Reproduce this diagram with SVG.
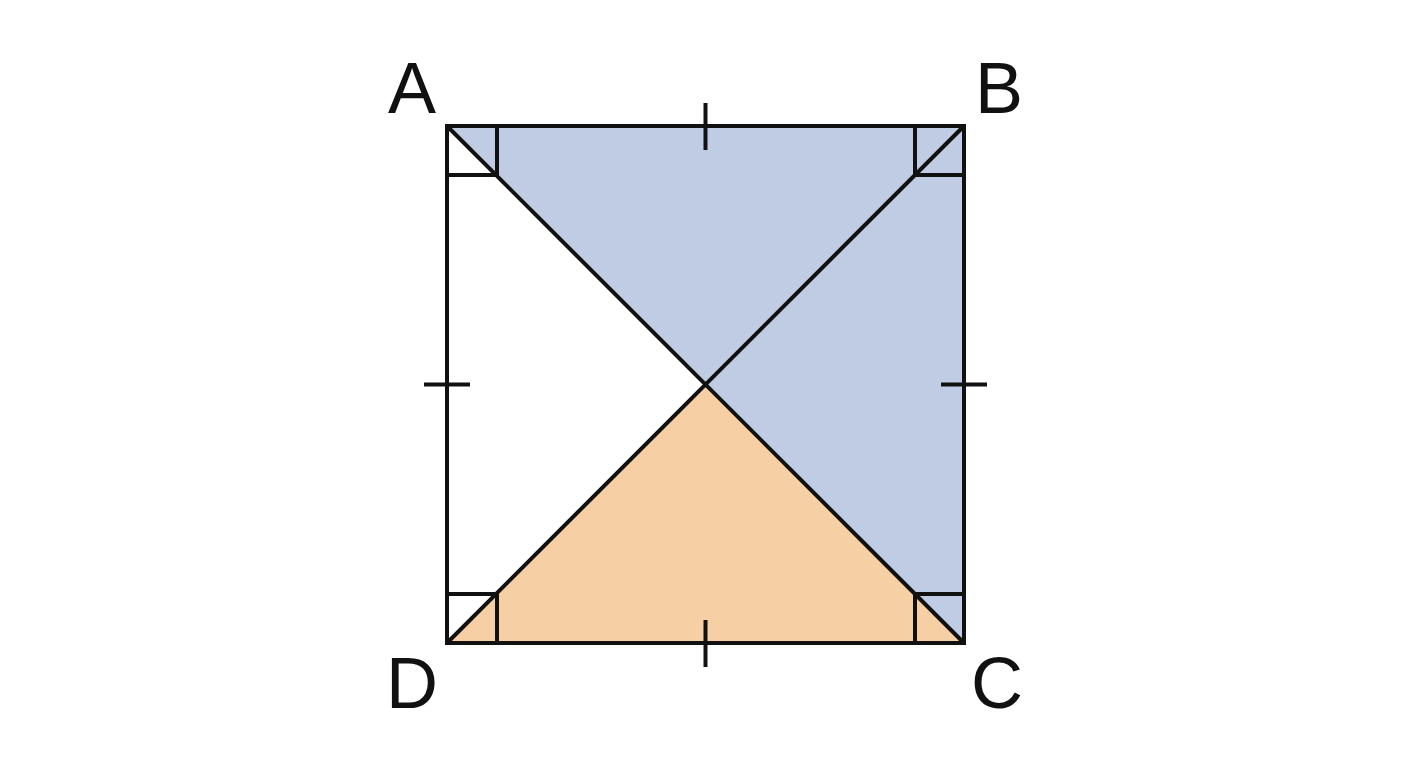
<svg xmlns="http://www.w3.org/2000/svg" width="1408" height="768" viewBox="0 0 1408 768">
<style>
.ln{stroke:#111;stroke-width:4;fill:none;stroke-linecap:butt}
.lbl{font-family:"Liberation Sans",Arial,sans-serif;font-size:72px;fill:#111;text-anchor:middle}
</style>
<rect width="1408" height="768" fill="#fff"/>
<g id="fills">
<polygon points="447,126 964,126 705.5,384.5" fill="#BFCCE4"/>
<polygon points="964,126 964,643 705.5,384.5" fill="#BFCCE4"/>
<polygon points="447,643 964,643 705.5,384.5" fill="#F7CFA4"/>
</g>
<g id="square">
<rect class="ln" x="447" y="126" width="517" height="517"/>
</g>
<g id="connectors">
<line class="ln" x1="447" y1="126" x2="964" y2="643"/>
<line class="ln" x1="964" y1="126" x2="447" y2="643"/>
</g>
<g id="right-angles">
<polyline class="ln" points="497,126 497,175 447,175"/>
<polyline class="ln" points="915,126 915,175 964,175"/>
<polyline class="ln" points="915,643 915,594 964,594"/>
<polyline class="ln" points="497,643 497,594 447,594"/>
</g>
<g id="ticks">
<line class="ln" x1="705.5" y1="103" x2="705.5" y2="150"/>
<line class="ln" x1="705.5" y1="620" x2="705.5" y2="667"/>
<line class="ln" x1="424" y1="384.5" x2="470" y2="384.5"/>
<line class="ln" x1="941" y1="384.5" x2="987" y2="384.5"/>
</g>
<g id="labels">
<text class="lbl" x="412" y="113">A</text>
<text class="lbl" x="999" y="113">B</text>
<text class="lbl" x="997" y="708">C</text>
<text class="lbl" x="412" y="708">D</text>
</g>
</svg>
